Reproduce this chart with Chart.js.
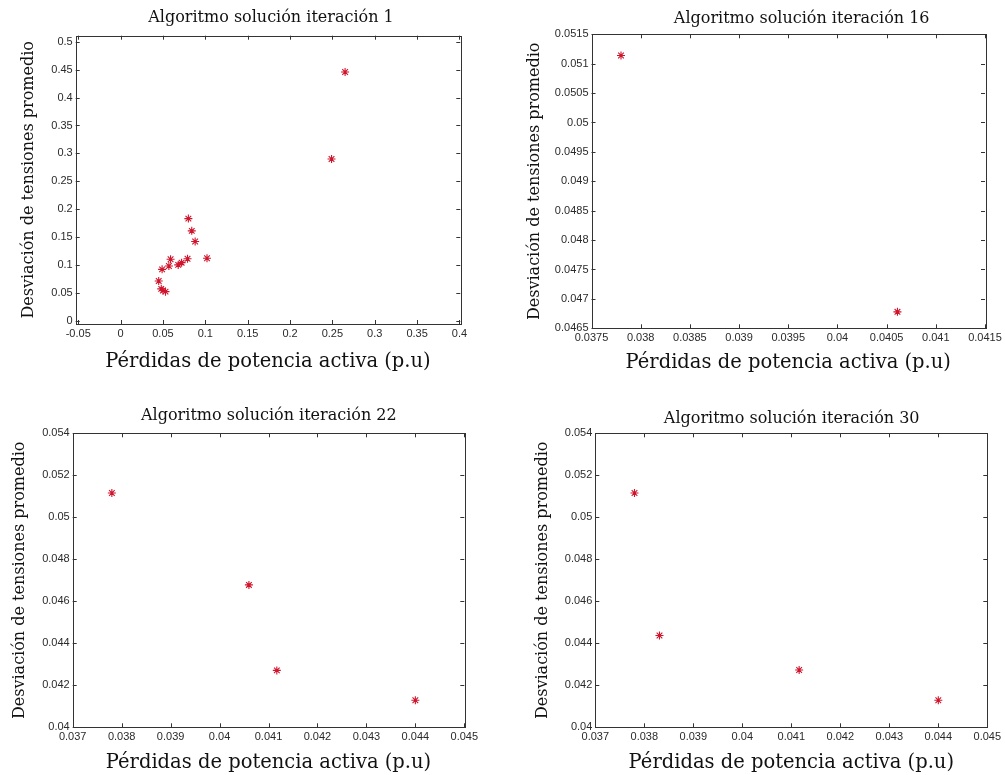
<!DOCTYPE html>
<html>
<head>
<meta charset="utf-8">
<title>Algoritmo solución</title>
<script src="https://cdn.jsdelivr.net/npm/chart.js@4/dist/chart.umd.min.js"></script>
<style>
    html, body { margin: 0; padding: 0; background: #fff; overflow: hidden; }
    #page { position: relative; width: 1005px; height: 775px; overflow: hidden; }
    #page canvas { position: absolute; }
</style>
</head>
<body>
<div id="page"></div>
<script>
// Iteración 1
const iter1X = [0.265, 0.249, 0.080, 0.084, 0.088, 0.102, 0.079, 0.072, 0.068, 0.059, 0.057, 0.049, 0.045, 0.048, 0.050, 0.053];
const iter1Y = [0.446, 0.290, 0.183, 0.161, 0.142, 0.112, 0.111, 0.104, 0.100, 0.110, 0.098, 0.092, 0.071, 0.057, 0.054, 0.052];
// Iteración 16
const iter16X = [0.03780, 0.04061];
const iter16Y = [0.05114, 0.04678];
// Iteración 22
const iter22X = [0.03780, 0.04060, 0.04117, 0.04400];
const iter22Y = [0.05116, 0.04678, 0.04271, 0.04129];
// Iteración 30
const iter30X = [0.03780, 0.03831, 0.04116, 0.04400];
const iter30Y = [0.05116, 0.04437, 0.04273, 0.04129];

// Tick labels
const ticksX1 = [-0.05, 0, 0.05, 0.1, 0.15, 0.2, 0.25, 0.3, 0.35, 0.4];
const ticksY1 = [0, 0.05, 0.1, 0.15, 0.2, 0.25, 0.3, 0.35, 0.4, 0.45, 0.5];
const ticksX16 = [0.0375, 0.038, 0.0385, 0.039, 0.0395, 0.04, 0.0405, 0.041, 0.0415];
const ticksY16 = [0.0465, 0.047, 0.0475, 0.048, 0.0485, 0.049, 0.0495, 0.05, 0.0505, 0.051, 0.0515];
const ticksXLate = [0.037, 0.038, 0.039, 0.04, 0.041, 0.042, 0.043, 0.044, 0.045];
const ticksYLate = [0.04, 0.042, 0.044, 0.046, 0.048, 0.05, 0.052, 0.054];

const xLabel = 'Pérdidas de potencia activa (p.u)';
const yLabel = 'Desviación de tensiones promedio';

const panels = [
    { title: 'Algoritmo solución iteración 1', xs: iter1X, ys: iter1Y, xTicks: ticksX1, yTicks: ticksY1,
      xMin: -0.053, xMax: 0.401, yMin: -0.006, yMax: 0.511 },
    { title: 'Algoritmo solución iteración 16', xs: iter16X, ys: iter16Y, xTicks: ticksX16, yTicks: ticksY16,
      xMin: 0.0375, xMax: 0.0415, yMin: 0.0465, yMax: 0.0515 },
    { title: 'Algoritmo solución iteración 22', xs: iter22X, ys: iter22Y, xTicks: ticksXLate, yTicks: ticksYLate,
      xMin: 0.037, xMax: 0.045, yMin: 0.04, yMax: 0.054 },
    { title: 'Algoritmo solución iteración 30', xs: iter30X, ys: iter30Y, xTicks: ticksXLate, yTicks: ticksYLate,
      xMin: 0.037, xMax: 0.045, yMin: 0.04, yMax: 0.054 }
];

// page placement of each panel (canvas origin, plot box, text centres)
const frames = [
    { ox: 0, oy: 0, h: 380, left: 75.7, right: 460.3, top: 35.7, bottom: 324,
      titleX: 271, titleY: 18, xTitleY: 362, yTitleX: 28.5 },
    { ox: 502, oy: 0, h: 380, left: 591.5, right: 985, top: 34.3, bottom: 328.3,
      titleX: 801.7, titleY: 18.5, xTitleY: 363, yTitleX: 535 },
    { ox: 0, oy: 380, h: 395, left: 72.7, right: 464.3, top: 433.3, bottom: 727.3,
      titleX: 268.9, titleY: 415.5, xTitleY: 762.5, yTitleX: 19.5 },
    { ox: 502, oy: 380, h: 395, left: 595.3, right: 987.3, top: 433.3, bottom: 727.3,
      titleX: 791.7, titleY: 419, xTitleY: 762.5, yTitleX: 543.3 }
];

const SERIF = "'DejaVu Serif', serif";
const SANS = "'Liberation Sans', Arial, sans-serif";
const titleFont = { family: SERIF, size: 16, weight: 'normal', lineHeight: 1.2 };
const xTitleFont = { family: SERIF, size: 19.5, weight: 'normal', lineHeight: 1.2 };
const yTitleFont = { family: SERIF, size: 16, weight: 'normal', lineHeight: 1.2 };
const tickFont = { family: SANS, size: 11, lineHeight: 1.2 };
const MARKER = '#d0142c';
const LABEL_SPACE = 45;   // room kept for the y tick labels (they are clipped to the axis box)

// MATLAB style box with inward ticks on all four sides
const matlabBox = {
    id: 'matlabBox',
    beforeDatasetsDraw(chart) {
        const { ctx, chartArea: a } = chart;
        const x = chart.scales.x;
        const y = chart.scales.y;
        const len = 4;
        ctx.save();
        ctx.strokeStyle = '#333';
        ctx.lineWidth = 1;
        ctx.beginPath();
        x.ticks.forEach(t => {
            const px = Math.round(x.getPixelForValue(t.value)) + 0.5;
            ctx.moveTo(px, a.bottom); ctx.lineTo(px, a.bottom - len);
            ctx.moveTo(px, a.top); ctx.lineTo(px, a.top + len);
        });
        y.ticks.forEach(t => {
            const py = Math.round(y.getPixelForValue(t.value)) + 0.5;
            ctx.moveTo(a.left, py); ctx.lineTo(a.left + len, py);
            ctx.moveTo(a.right, py); ctx.lineTo(a.right - len, py);
        });
        ctx.stroke();
        ctx.strokeRect(Math.round(a.left) + 0.5, Math.round(a.top) + 0.5,
            Math.round(a.right - a.left), Math.round(a.bottom - a.top));
        ctx.restore();
    }
};

function buildChart(panel, f) {
    // the full-width title is centred between padL and the canvas edge,
    // so the canvas width and the right spacer axis put it where the original has it
    const w = Math.round(2 * f.titleX - f.ox - f.left + LABEL_SPACE);
    const padL = 2 * (f.titleX - f.ox) - w;
    const yWidth = f.left - f.ox - padL;
    const rWidth = f.ox + w - f.right;
    const xHeight = f.oy + f.h - f.bottom;
    const tLh = titleFont.size * titleFont.lineHeight;
    const xLh = xTitleFont.size * xTitleFont.lineHeight;
    const yLh = yTitleFont.size * yTitleFont.lineHeight;

    const canvas = document.createElement('canvas');
    canvas.width = w;
    canvas.height = f.h;
    canvas.style.left = f.ox + 'px';
    canvas.style.top = f.oy + 'px';
    document.getElementById('page').appendChild(canvas);

    const points = panel.xs.map((v, i) => ({ x: v, y: panel.ys[i] }));

    return new Chart(canvas, {
        type: 'scatter',
        data: {
            datasets: [{
                data: points,
                pointStyle: 'star',
                radius: 4,
                borderWidth: 1.1,
                borderColor: MARKER,
                backgroundColor: MARKER
            }]
        },
        options: {
            responsive: false,
            devicePixelRatio: 1,
            animation: false,
            events: [],
            layout: { padding: { left: padL, right: 0, top: 0, bottom: 0 } },
            plugins: {
                legend: { display: false },
                tooltip: { enabled: false },
                title: {
                    display: true,
                    text: panel.title,
                    color: '#111',
                    font: titleFont,
                    padding: {
                        top: f.titleY - f.oy - tLh / 2,
                        bottom: f.top - f.titleY - tLh / 2
                    }
                }
            },
            scales: {
                x: {
                    type: 'linear',
                    position: 'bottom',
                    min: panel.xMin,
                    max: panel.xMax,
                    afterBuildTicks: s => { s.ticks = panel.xTicks.map(v => ({ value: v })); },
                    afterFit: s => { s.height = xHeight; },
                    grid: { display: false, drawTicks: false },
                    border: { display: false },
                    ticks: {
                        padding: 3,
                        font: tickFont,
                        color: '#2a2a2a',
                        maxRotation: 0,
                        autoSkip: false,
                        callback: v => String(v)
                    },
                    title: {
                        display: true,
                        text: xLabel,
                        color: '#111',
                        font: xTitleFont,
                        padding: { top: 0, bottom: f.oy + f.h - f.xTitleY - xLh / 2 }
                    }
                },
                y: {
                    type: 'linear',
                    position: 'left',
                    min: panel.yMin,
                    max: panel.yMax,
                    afterBuildTicks: s => { s.ticks = panel.yTicks.map(v => ({ value: v })); },
                    afterFit: s => { s.width = yWidth; },
                    grid: { display: false, drawTicks: false },
                    border: { display: false },
                    ticks: {
                        padding: 3,
                        font: tickFont,
                        color: '#2a2a2a',
                        autoSkip: false,
                        callback: v => String(v)
                    },
                    title: {
                        display: true,
                        text: yLabel,
                        color: '#111',
                        font: yTitleFont,
                        padding: { top: f.yTitleX - f.ox - padL - yLh / 2, bottom: 0 }
                    }
                },
                // empty spacer on the right
                yr: {
                    type: 'linear',
                    position: 'right',
                    afterFit: s => { s.width = rWidth; },
                    grid: { display: false, drawTicks: false },
                    border: { display: false },
                    ticks: { display: false }
                }
            }
        },
        plugins: [matlabBox]
    });
}

panels.forEach((p, i) => buildChart(p, frames[i]));
</script>
</body>
</html>
